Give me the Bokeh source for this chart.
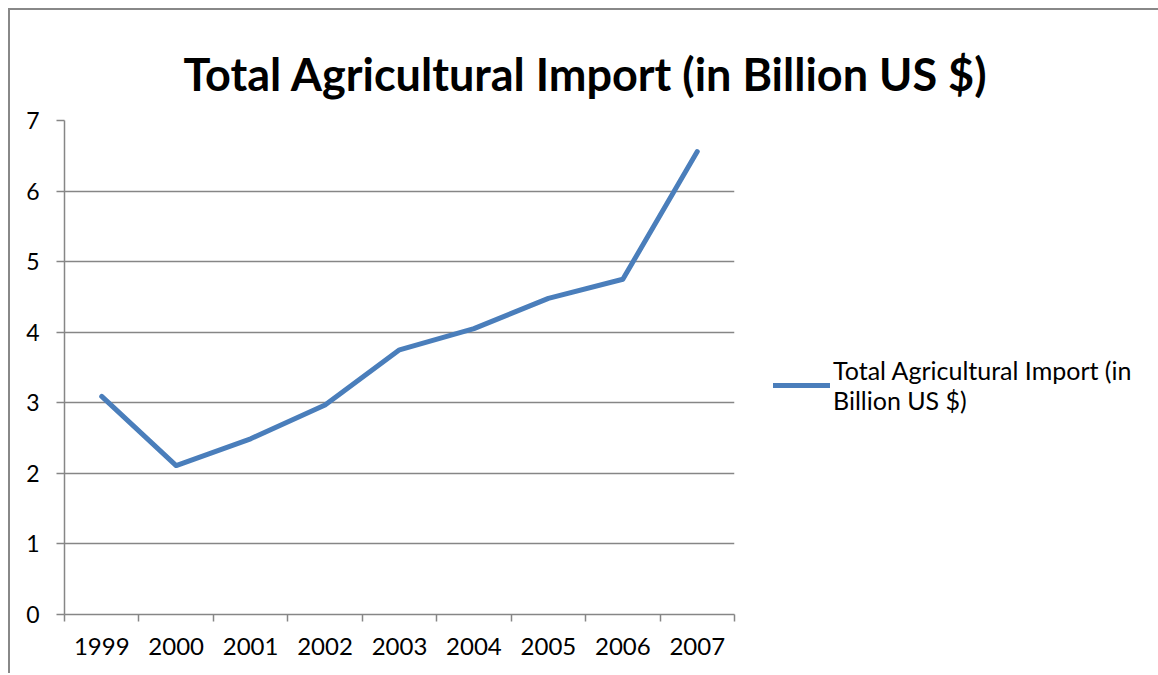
from bokeh.plotting import figure
from bokeh.models import (Range1d, FixedTicker, LinearAxis, Legend, LegendItem, Title, Grid)
from bokeh.embed import file_html
from bokeh.resources import INLINE

years = ["1999", "2000", "2001", "2002", "2003", "2004", "2005", "2006", "2007"]
imports = [3.09, 2.11, 2.49, 2.97, 3.75, 4.05, 4.48, 4.75, 6.56]
y_ticks = [0, 1, 2, 3, 4, 5, 6, 7]
series_name = "Total Agricultural Import (in\nBillion US $)"
title_text = "Total Agricultural Import (in Billion US $)"

FONT = "Lato"
GRID = "#868686"
LINE = "#4A7EBB"

xs = [i + 0.5 for i in range(len(years))]

p = figure(frame_width=670, frame_height=494, output_backend="svg", toolbar_location=None,
           x_range=Range1d(0, len(years)), y_range=Range1d(0, 7),
           min_border_left=54, min_border_right=0, min_border_top=110, min_border_bottom=59,
           x_axis_type=None, y_axis_type=None)
p.margin = (8, 0, 0, 8)
p.styles = {"border-left": "2px solid #888888", "border-top": "2px solid #888888"}
p.outline_line_color = None
p.background_fill_color = "white"
p.border_fill_color = "white"

# Title
t = Title(text=title_text, align="left", offset=119,
          text_font=FONT, text_font_style="bold", text_font_size="45px",
          vertical_align="top", text_color="black", standoff=35)
p.add_layout(t, "above")

# y axis
ya = LinearAxis(ticker=FixedTicker(ticks=y_ticks))
ya.axis_line_color = GRID
ya.axis_line_width = 1.5
ya.major_tick_line_color = GRID
ya.major_tick_line_width = 1.5
ya.major_tick_out = 8
ya.major_tick_in = 0
ya.minor_tick_line_color = None
ya.major_label_text_font = FONT
ya.major_label_text_font_size = "23px"
ya.major_label_text_color = "black"
ya.major_label_standoff = 17
p.add_layout(ya, "left")

# x axis: boundary ticks
xa = LinearAxis(ticker=FixedTicker(ticks=list(range(len(years) + 1))),
                major_label_overrides={i: "" for i in range(len(years) + 1)})
xa.axis_line_color = GRID
xa.axis_line_width = 1.5
xa.major_tick_line_color = GRID
xa.major_tick_line_width = 1.5
xa.major_tick_out = 7
xa.major_tick_in = 0
xa.minor_tick_line_color = None
xa.major_label_text_font_size = "1px"
xa.major_label_standoff = 0
p.add_layout(xa, "below")

# x axis: category labels
xl = LinearAxis(ticker=FixedTicker(ticks=xs),
                major_label_overrides={x: y for x, y in zip(xs, years)})
xl.axis_line_color = None
xl.major_tick_line_color = None
xl.minor_tick_line_color = None
xl.major_tick_out = 0
xl.major_tick_in = 0
xl.major_label_text_font = FONT
xl.major_label_text_font_size = "24px"
xl.major_label_text_color = "black"
xl.major_label_standoff = 16
p.add_layout(xl, "below")

p.add_layout(Grid(dimension=1, ticker=FixedTicker(ticks=y_ticks),
                  grid_line_color=GRID, grid_line_width=1.5))

r = p.line(xs, imports, line_color=LINE, line_width=5, line_join="round", line_cap="round")

legend = Legend(items=[LegendItem(label=series_name, renderers=[r])],
                location=(39, 199))
legend.border_line_color = None
legend.background_fill_alpha = 0
legend.glyph_width = 57
legend.label_standoff = 3
legend.padding = 0
legend.margin = 0
legend.label_text_font = FONT
legend.label_text_font_size = "25px"
legend.label_text_color = "black"
p.add_layout(legend, "right")

open("out.html", "w").write(file_html(p, INLINE))
